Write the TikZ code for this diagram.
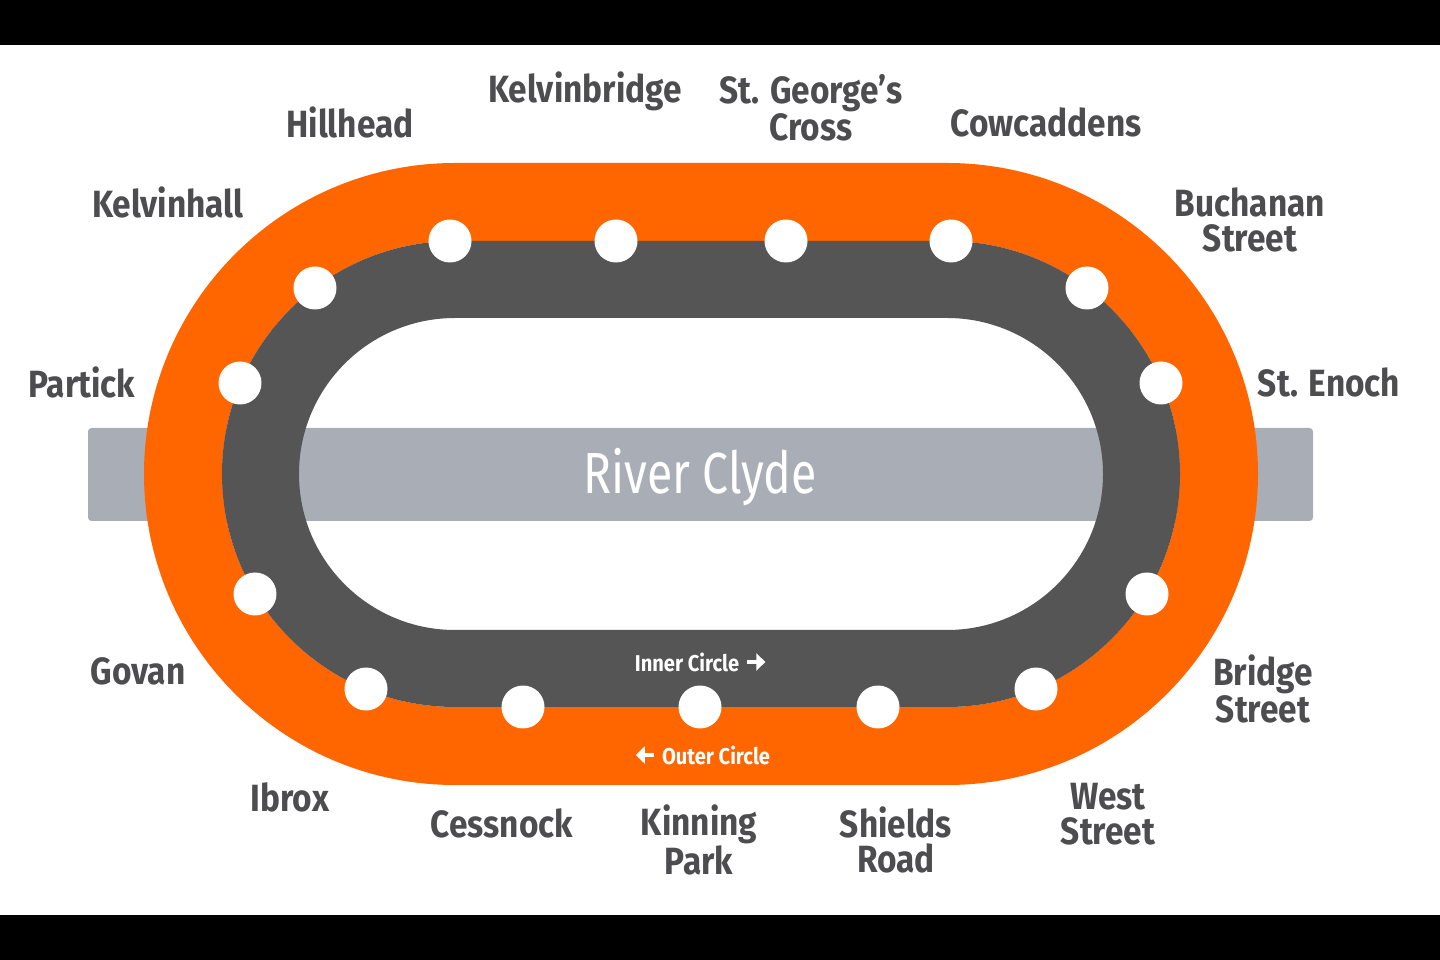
\documentclass[tikz,border=0pt]{standalone}
\usepackage{fontspec}
\setmainfont{Fira Sans}[FakeStretch=0.88]
\newfontfamily\riverfont{Fira Sans}[FakeStretch=0.8]
\usetikzlibrary{arrows.meta}
\definecolor{spt}{RGB}{255,102,0}
\definecolor{tunnel}{RGB}{85,85,85}
\definecolor{clyde}{RGB}{169,174,182}
\definecolor{ink}{RGB}{77,77,79}

\begin{document}
\begin{tikzpicture}[x=0.02cm,y=0.02cm,
    track/.style={insert path={(455,486+#1) -- (947,486+#1) arc[start angle=90,end angle=-90,radius=#1]
      -- (455,486-#1) arc[start angle=270,end angle=90,radius=#1] -- cycle}},
    stop/.style={circle,fill=white,inner sep=0pt,minimum size=0.86cm},
    stn/.style={text=ink,font=\fontsize{21.6}{20}\selectfont\bfseries,align=center},
    dir/.style={text=white,font=\fontsize{13}{13}\selectfont\bfseries},
    dirarrow/.style={white,line width=2.6pt,-{Triangle[length=0.18cm,width=0.34cm]}}]
  \useasboundingbox (0,0) rectangle (1440,960);
  \fill[black] (0,0) rectangle (1440,45);
  \fill[black] (0,915) rectangle (1440,960);
  % river under the line
  \fill[clyde,rounded corners=2pt] (88,439) rectangle (1313,532);
  \fill[spt,even odd rule,track=311,track=233];
  \fill[tunnel,even odd rule,track=233,track=156];
  \node[text=white,font=\riverfont\fontsize{33}{33}\selectfont] (river) at (700,483) {River Clyde};
  % stations
  \foreach \n/\x/\y in {kelvinhall/315/672,partick/240/577,govan/255/366,ibrox/366/271,
      cessnock/523/253,kinning/700/253,shields/878/253,west/1036/271,bridge/1147/366,
      enoch/1161/577,buchanan/1087/672,cowcaddens/951/719,george/786/719,
      kelvinbridge/616/719,hillhead/450/719}
    \node[stop] (\n) at (\x,\y) {};
  \node[stn] (l-hillhead) at (350,838) {Hillhead};
  \node[stn] (l-kelvinbridge) at (585,869) {Kelvinbridge};
  \node[stn] (l-george) at (811,852) {St. George’s\\Cross};
  \node[stn] (l-cowcaddens) at (1046,838) {Cowcaddens};
  \node[stn] (l-kelvinhall) at (168,758) {Kelvinhall};
  \node[stn] (l-buchanan) at (1250,740) {Buchanan\\Street};
  \node[stn] (l-partick) at (82,578) {Partick};
  \node[stn] (l-enoch) at (1329,578) {St. Enoch};
  \node[stn] (l-govan) at (138,289) {Govan};
  \node[stn] (l-bridge) at (1263,271) {Bridge\\Street};
  \node[stn] (l-ibrox) at (290,163) {Ibrox};
  \node[stn] (l-cessnock) at (502,137) {Cessnock};
  \node[stn] (l-kinning) at (699,120) {Kinning\\Park};
  \node[stn] (l-shields) at (896,120) {Shields\\Road};
  \node[stn] (l-west) at (1108,146) {West\\Street};
  % directions
  \node[dir] (inner) at (687,298) {Inner Circle};
  \draw[dirarrow] ([xshift=0.04cm]inner.east) -- ++(18,0);
  \node[dir] (outer) at (716,205) {Outer Circle};
  \draw[dirarrow] ([xshift=-0.04cm]outer.west) -- ++(-18,0);
\end{tikzpicture}
\end{document}
